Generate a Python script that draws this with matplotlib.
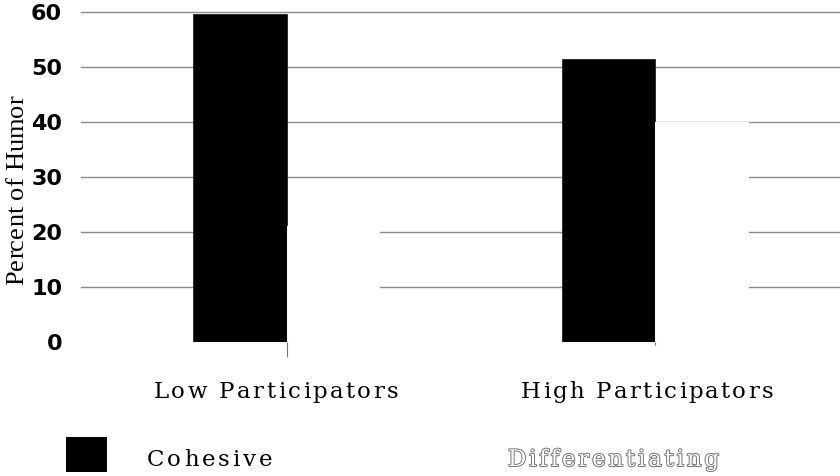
import matplotlib
matplotlib.use("Agg")
import matplotlib.pyplot as plt
from matplotlib.font_manager import FontProperties, findfont
from matplotlib.ft2font import FT2Font
from matplotlib.patches import Rectangle
import matplotlib.patheffects as pe
import numpy as np

# ---- data ----
categories = ["Low Participators", "High Participators"]
series_names = ["Cohesive", "Differentiating"]
cohesive = [59.6, 51.4]
differentiating = [21, 40]
y_ticks = [0, 10, 20, 30, 40, 50, 60]

W, H = 840, 476
DPI = 100
fig = plt.figure(figsize=(W / DPI, H / DPI), dpi=DPI)
fig.patch.set_facecolor("white")

ax = fig.add_axes([81 / W, (H - 341.6) / H, (W - 81) / W, (341.6 - 12) / H])
ax.set_xlim(-0.559, 1.502)
ax.set_ylim(0, 60)

x = np.arange(len(categories))
bw = 0.2536
ax.bar(x - bw / 2, cohesive, width=bw, color="black", edgecolor="#222222",
       linewidth=0.6, zorder=3)
ax.bar(x + bw / 2, differentiating, width=bw, color="white", edgecolor="none",
       linewidth=0, zorder=3)

for s in ax.spines.values():
    s.set_visible(False)

ax.set_yticks(y_ticks)
ax.set_yticklabels([str(v) for v in y_ticks], fontfamily="DejaVu Sans",
                   fontweight="bold", fontsize=16)
ax.tick_params(axis="y", length=0, pad=13.5)
ax.yaxis.grid(True, color="#8a8a8a", linewidth=1.0)
ax.set_axisbelow(True)
for t, loc in zip(ax.yaxis.get_major_ticks(), y_ticks):
    t.gridline.set_clip_on(False)
    if loc == 0:
        t.gridline.set_visible(False)

ax.set_xticks(x)
ax.set_xticklabels(["", ""])
ax.tick_params(axis="x", length=11, width=0.8, color="#777777", direction="out")
ticks = ax.xaxis.get_major_ticks()
ticks[1].tick1line.set_markersize(2)


# ---- tracked text helper (precise glyph advances) ----
def advances(s, fp):
    font = FT2Font(findfont(fp))
    font.set_size(fp.get_size_in_points(), DPI)
    return [font.load_char(ord(c)).linearHoriAdvance / 65536.0 for c in s]


def tracked(s, x0, y0, fp, width, align="center", vertical=False, **kw):
    """Spread text s over `width` pixels. x0,y0 in pixels from top-left."""
    ws = advances(s, fp)
    tracking = (width - sum(ws)) / (len(s) - 1)
    total = width
    if vertical:
        pos = y0 + total / 2 if align == "center" else y0
        for c, w in zip(s, ws):
            fig.text(x0 / W, 1 - pos / H, c, fontproperties=fp, rotation=90,
                     rotation_mode="anchor", ha="left", va="baseline", **kw)
            pos -= w + tracking
    else:
        pos = x0 - total / 2 if align == "center" else x0
        for c, w in zip(s, ws):
            fig.text(pos / W, 1 - y0 / H, c, fontproperties=fp,
                     ha="left", va="baseline", **kw)
            pos += w + tracking


serif = FontProperties(family="DejaVu Serif", size=16.5)
serif_y = FontProperties(family="Liberation Serif", size=19)

# category labels
offsets = [-11, -8]
widths = [245, 252]
for i, name in enumerate(categories):
    px = ax.transData.transform((x[i], 0))[0] + offsets[i]
    tracked(name, px, 398, serif, widths[i])

# y label
tracked("Percent of Humor", 23.5, 190, serif_y, 190, vertical=True)

# legend
fig.patches.append(Rectangle((66 / W, 1 - 472 / H), 41 / W, 35 / H,
                             transform=fig.transFigure, facecolor="black",
                             edgecolor="none"))
tracked(series_names[0], 147, 466, serif, 125, align="left", color="black")
tracked(series_names[1], 508, 466, serif, 211, align="left", color="white",
        path_effects=[pe.withStroke(linewidth=1.3, foreground="#6a6a6a")])

fig.savefig("out.png", dpi=DPI, facecolor="white")
